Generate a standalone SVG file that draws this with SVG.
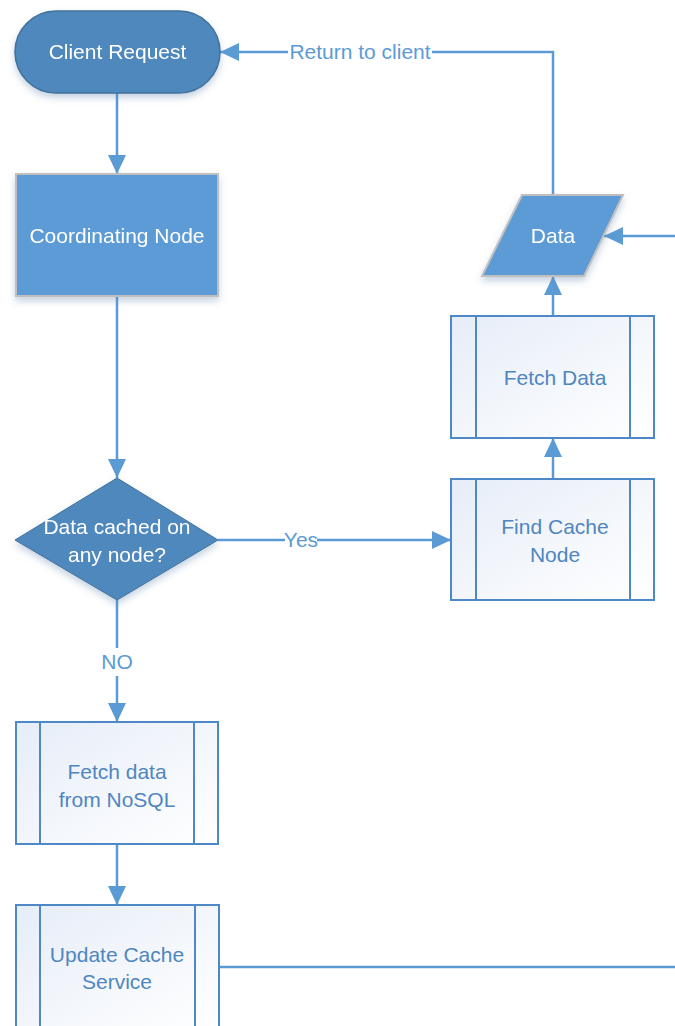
<svg xmlns="http://www.w3.org/2000/svg" width="675" height="1026" viewBox="0 0 675 1026">
  <style>
    .lbl { font-family: "Liberation Sans", Arial, sans-serif; font-size: 21px; text-anchor: middle; }
    .white { fill: #FFFFFF; }
    .blue { fill: #4F86C0; }
    .edge-lbl { fill: #5B9BD5; }
    .conn { fill: none; stroke: #5B9BD5; stroke-width: 2.5; }
    .sub { fill: url(#subGrad); stroke: #4F88C6; stroke-width: 2; }
    .sub-line { stroke: #4F88C6; stroke-width: 2; }
    .mask { fill: #FFFFFF; }
  </style>
  <defs>
    <marker id="arrow" markerUnits="userSpaceOnUse" markerWidth="19" markerHeight="18" refX="19" refY="9" orient="auto">
      <path d="M0,0 L19,9 L0,18 Z" fill="#5B9BD5"/>
    </marker>
    <linearGradient id="subGrad" x1="0" y1="0" x2="1" y2="1">
      <stop offset="0" stop-color="#E6EDF8"/>
      <stop offset="1" stop-color="#FFFFFF"/>
    </linearGradient>
    <filter id="shadow" x="-20%" y="-20%" width="140%" height="150%">
      <feDropShadow dx="0" dy="4" stdDeviation="3.5" flood-color="#5B7FA8" flood-opacity="0.35"/>
    </filter>
  </defs>

  <rect width="675" height="1026" fill="#FFFFFF"/>

  <!-- connectors -->
  <g id="connectors">
    <path class="conn" d="M117,93 V174" marker-end="url(#arrow)"/>
    <path class="conn" d="M117,296 V478" marker-end="url(#arrow)"/>
    <path class="conn" d="M218,540 H451" marker-end="url(#arrow)"/>
    <path class="conn" d="M117,600 V722" marker-end="url(#arrow)"/>
    <path class="conn" d="M117,844 V905" marker-end="url(#arrow)"/>
    <path class="conn" d="M219,967 H675"/>
    <path class="conn" d="M675,236 H604" marker-end="url(#arrow)"/>
    <path class="conn" d="M553,479 V438" marker-end="url(#arrow)"/>
    <path class="conn" d="M553,316 V276" marker-end="url(#arrow)"/>
    <path class="conn" d="M553,195 V52 H220" marker-end="url(#arrow)"/>

    <!-- edge labels -->
    <rect class="mask" x="288" y="40" width="144" height="24"/>
    <text class="lbl edge-lbl" x="360" y="59">Return to client</text>
    <rect class="mask" x="285" y="528" width="32" height="24"/>
    <text class="lbl edge-lbl" x="301" y="547">Yes</text>
    <rect class="mask" x="100" y="648" width="34" height="28"/>
    <text class="lbl edge-lbl" x="117" y="669">NO</text>
  </g>

  <!-- start terminal -->
  <g id="client-request" filter="url(#shadow)">
    <rect x="15" y="11" width="205" height="82" rx="41" ry="41" fill="#4F88BD" stroke="#41719C" stroke-width="1.5"/>
    <text class="lbl white" x="117.5" y="59">Client Request</text>
  </g>

  <g id="coordinating-node" filter="url(#shadow)">
    <rect x="16" y="174" width="202" height="122" fill="#5B9BD5" stroke="#BFBFBF" stroke-width="2"/>
    <text class="lbl white" x="117" y="243">Coordinating Node</text>
  </g>

  <g id="data-cached" filter="url(#shadow)">
    <polygon points="117,478 218,540 117,600 15,540" fill="#4F88BD" stroke="#41719C" stroke-width="1"/>
    <text class="lbl white" x="117" y="534">Data cached on</text>
    <text class="lbl white" x="117" y="562">any node?</text>
  </g>

  <g id="find-cache-node">
    <rect class="sub" x="451" y="479" width="203" height="121"/>
    <line class="sub-line" x1="476" y1="479" x2="476" y2="600"/>
    <line class="sub-line" x1="630" y1="479" x2="630" y2="600"/>
    <text class="lbl blue" x="555" y="534">Find Cache</text>
    <text class="lbl blue" x="555" y="562">Node</text>
  </g>

  <g id="fetch-data">
    <rect class="sub" x="451" y="316" width="203" height="122"/>
    <line class="sub-line" x1="476" y1="316" x2="476" y2="438"/>
    <line class="sub-line" x1="630" y1="316" x2="630" y2="438"/>
    <text class="lbl blue" x="555" y="385">Fetch Data</text>
  </g>

  <g id="data" filter="url(#shadow)">
    <polygon points="522,195 623,195 584,276 482,276" fill="#5B9BD5" stroke="#BFBFBF" stroke-width="2"/>
    <text class="lbl white" x="553" y="243">Data</text>
  </g>

  <g id="fetch-nosql">
    <rect class="sub" x="16" y="722" width="202" height="122"/>
    <line class="sub-line" x1="40" y1="722" x2="40" y2="844"/>
    <line class="sub-line" x1="194" y1="722" x2="194" y2="844"/>
    <text class="lbl blue" x="117" y="779">Fetch data</text>
    <text class="lbl blue" x="117" y="807">from NoSQL</text>
  </g>

  <g id="update-cache">
    <rect class="sub" x="16" y="905" width="203" height="124"/>
    <line class="sub-line" x1="40" y1="905" x2="40" y2="1029"/>
    <line class="sub-line" x1="195" y1="905" x2="195" y2="1029"/>
    <text class="lbl blue" x="117" y="962">Update Cache</text>
    <text class="lbl blue" x="117" y="989">Service</text>
  </g>
</svg>
